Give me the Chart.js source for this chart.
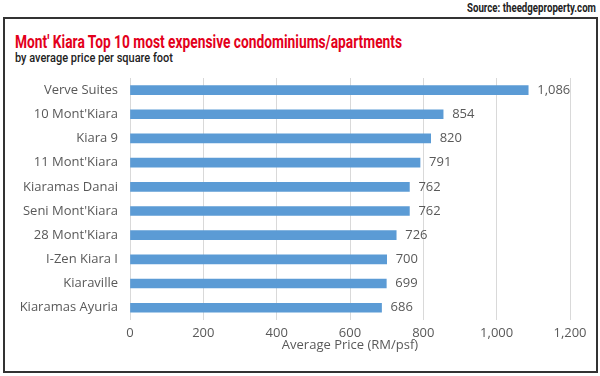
<!DOCTYPE html>
<html><head><meta charset="utf-8">
<script src="https://cdn.jsdelivr.net/npm/chart.js@4.4.0/dist/chart.umd.min.js"></script>
<style>
html,body{margin:0;padding:0;background:#fff;width:600px;height:376px;overflow:hidden;}
#frame{position:absolute;left:3px;top:17px;width:591px;height:352px;border:2px solid #333;}
.t{position:absolute;white-space:nowrap;transform-origin:0 0;font-family:Roboto,"Liberation Sans",sans-serif;}
#src{left:467px;top:1px;font-weight:bold;font-size:12px;color:#222;}
#title{left:15px;top:30px;font-weight:bold;font-size:19px;color:#e3001b;}
#sub{left:15px;top:50px;font-size:13px;font-weight:500;color:#222;}
#c{position:absolute;left:0;top:0;}
</style></head>
<body>
<div id="frame"></div>
<div class="t" id="src" data-w="129">Source: theedgeproperty.com</div>
<div class="t" id="title" data-w="387">Mont' Kiara Top 10 most expensive condominiums/apartments</div>
<div class="t" id="sub" data-w="158">by average price per square foot</div>
<canvas id="c" width="600" height="376"></canvas>
<script>
document.querySelectorAll('.t').forEach(el => {
  const w = el.getBoundingClientRect().width;
  el.style.transform = 'scaleX(' + (Number(el.dataset.w) / w) + ')';
});

const categories = ["Verve Suites","10 Mont'Kiara","Kiara 9","11 Mont'Kiara","Kiaramas Danai","Seni Mont'Kiara","28 Mont'Kiara","I-Zen Kiara I","Kiaraville","Kiaramas Ayuria"];
const prices = [1086, 854, 820, 791, 762, 762, 726, 700, 699, 686];
const xTicks = [0, 200, 400, 600, 800, 1000, 1200];
const axisTitle = "Average Price (RM/psf)";

const FONT = "'Open Sans', sans-serif";
const labelPlugin = {
  id: 'valueLabels',
  afterDatasetsDraw(chart) {
    const ctx = chart.ctx;
    const meta = chart.getDatasetMeta(0);
    ctx.save();
    ctx.font = "13px " + FONT;
    ctx.fillStyle = "#595959";
    ctx.textBaseline = "middle";
    ctx.textAlign = "left";
    meta.data.forEach((bar, i) => {
      ctx.fillText(prices[i].toLocaleString('en-US'), bar.x + 9, bar.y);
    });
    ctx.restore();
  }
};

new Chart(document.getElementById('c'), {
  type: 'bar',
  data: { labels: categories, datasets: [{ data: prices, backgroundColor: '#5B9BD5', barThickness: 9 }] },
  options: {
    indexAxis: 'y',
    responsive: false,
    animation: false,
    layout: { padding: { top: 78, left: 10, right: 30, bottom: 23 } },
    plugins: { legend: { display: false }, tooltip: { enabled: false } },
    scales: {
      x: {
        min: 0, max: 1200,
        afterBuildTicks(s) { s.ticks = xTicks.map(v => ({ value: v })); },
        grid: { color: '#d9d9d9', drawTicks: false },
        border: { display: false },
        ticks: { padding: 6, color: '#595959', font: { family: FONT, size: 13 },
          callback: v => Number(v).toLocaleString('en-US') },
        title: { display: true, text: axisTitle, color: '#595959', font: { family: FONT, size: 13 }, padding: { top: -10, bottom: 0 } }
      },
      y: {
        grid: { display: false, drawTicks: false },
        border: { display: false },
        ticks: { padding: 12, color: '#595959', font: { family: FONT, size: 13 } },
        afterFit(s) { s.width = 120; }
      }
    }
  },
  plugins: [labelPlugin]
});
</script>
</body></html>
